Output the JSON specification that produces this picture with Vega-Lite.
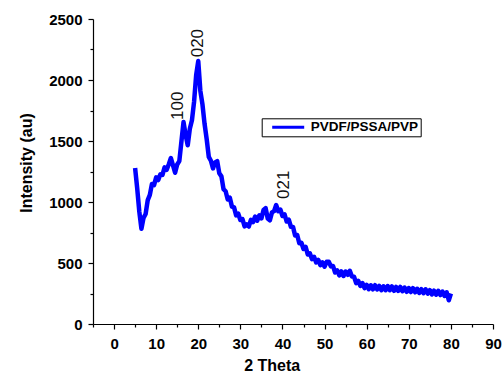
{
  "$schema": "https://vega.github.io/schema/vega-lite/v6.json",
  "width": 400,
  "height": 305,
  "autosize": "none",
  "padding": {"left": 93, "top": 19, "right": 10, "bottom": 51},
  "background": "white",
  "config": {
    "view": {"stroke": null},
    "font": "Liberation Sans",
    "axis": {
      "grid": false,
      "domainColor": "black",
      "tickColor": "black",
      "labelColor": "black",
      "titleColor": "black",
      "labelFont": "Liberation Sans",
      "titleFont": "Liberation Sans",
      "labelFontWeight": "bold",
      "titleFontWeight": "bold",
      "labelFontSize": 15,
      "titleFontSize": 16,
      "domainWidth": 1.2,
      "tickWidth": 1.2
    }
  },
  "datasets": {
    "xrd": [
      {"t": 5.0, "i": 1278, "s": "PVDF/PSSA/PVP"},
      {"t": 5.5, "i": 1110, "s": "PVDF/PSSA/PVP"},
      {"t": 6.0, "i": 920, "s": "PVDF/PSSA/PVP"},
      {"t": 6.5, "i": 780, "s": "PVDF/PSSA/PVP"},
      {"t": 7.0, "i": 870, "s": "PVDF/PSSA/PVP"},
      {"t": 7.5, "i": 902, "s": "PVDF/PSSA/PVP"},
      {"t": 8.0, "i": 1015, "s": "PVDF/PSSA/PVP"},
      {"t": 8.5, "i": 1058, "s": "PVDF/PSSA/PVP"},
      {"t": 9.0, "i": 1148, "s": "PVDF/PSSA/PVP"},
      {"t": 9.5, "i": 1138, "s": "PVDF/PSSA/PVP"},
      {"t": 10.0, "i": 1202, "s": "PVDF/PSSA/PVP"},
      {"t": 10.5, "i": 1180, "s": "PVDF/PSSA/PVP"},
      {"t": 11.0, "i": 1227, "s": "PVDF/PSSA/PVP"},
      {"t": 11.5, "i": 1222, "s": "PVDF/PSSA/PVP"},
      {"t": 12.0, "i": 1284, "s": "PVDF/PSSA/PVP"},
      {"t": 12.5, "i": 1264, "s": "PVDF/PSSA/PVP"},
      {"t": 13.0, "i": 1310, "s": "PVDF/PSSA/PVP"},
      {"t": 13.5, "i": 1360, "s": "PVDF/PSSA/PVP"},
      {"t": 14.0, "i": 1300, "s": "PVDF/PSSA/PVP"},
      {"t": 14.5, "i": 1240, "s": "PVDF/PSSA/PVP"},
      {"t": 15.0, "i": 1308, "s": "PVDF/PSSA/PVP"},
      {"t": 15.5, "i": 1335, "s": "PVDF/PSSA/PVP"},
      {"t": 16.0, "i": 1495, "s": "PVDF/PSSA/PVP"},
      {"t": 16.5, "i": 1655, "s": "PVDF/PSSA/PVP"},
      {"t": 17.0, "i": 1550, "s": "PVDF/PSSA/PVP"},
      {"t": 17.5, "i": 1465, "s": "PVDF/PSSA/PVP"},
      {"t": 18.0, "i": 1600, "s": "PVDF/PSSA/PVP"},
      {"t": 18.5, "i": 1670, "s": "PVDF/PSSA/PVP"},
      {"t": 19.0, "i": 1820, "s": "PVDF/PSSA/PVP"},
      {"t": 19.5, "i": 2040, "s": "PVDF/PSSA/PVP"},
      {"t": 20.0, "i": 2155, "s": "PVDF/PSSA/PVP"},
      {"t": 20.5, "i": 1910, "s": "PVDF/PSSA/PVP"},
      {"t": 21.0, "i": 1800, "s": "PVDF/PSSA/PVP"},
      {"t": 21.5, "i": 1640, "s": "PVDF/PSSA/PVP"},
      {"t": 22.0, "i": 1515, "s": "PVDF/PSSA/PVP"},
      {"t": 22.5, "i": 1370, "s": "PVDF/PSSA/PVP"},
      {"t": 23.0, "i": 1338, "s": "PVDF/PSSA/PVP"},
      {"t": 23.5, "i": 1275, "s": "PVDF/PSSA/PVP"},
      {"t": 24.0, "i": 1325, "s": "PVDF/PSSA/PVP"},
      {"t": 24.5, "i": 1335, "s": "PVDF/PSSA/PVP"},
      {"t": 25.0, "i": 1235, "s": "PVDF/PSSA/PVP"},
      {"t": 25.5, "i": 1210, "s": "PVDF/PSSA/PVP"},
      {"t": 26.0, "i": 1105, "s": "PVDF/PSSA/PVP"},
      {"t": 26.5, "i": 1088, "s": "PVDF/PSSA/PVP"},
      {"t": 27.0, "i": 1020, "s": "PVDF/PSSA/PVP"},
      {"t": 27.5, "i": 1035, "s": "PVDF/PSSA/PVP"},
      {"t": 28.0, "i": 962, "s": "PVDF/PSSA/PVP"},
      {"t": 28.5, "i": 956, "s": "PVDF/PSSA/PVP"},
      {"t": 29.0, "i": 890, "s": "PVDF/PSSA/PVP"},
      {"t": 29.5, "i": 904, "s": "PVDF/PSSA/PVP"},
      {"t": 30.0, "i": 852, "s": "PVDF/PSSA/PVP"},
      {"t": 30.5, "i": 860, "s": "PVDF/PSSA/PVP"},
      {"t": 31.0, "i": 800, "s": "PVDF/PSSA/PVP"},
      {"t": 31.5, "i": 817, "s": "PVDF/PSSA/PVP"},
      {"t": 32.0, "i": 799, "s": "PVDF/PSSA/PVP"},
      {"t": 32.5, "i": 853, "s": "PVDF/PSSA/PVP"},
      {"t": 33.0, "i": 835, "s": "PVDF/PSSA/PVP"},
      {"t": 33.5, "i": 880, "s": "PVDF/PSSA/PVP"},
      {"t": 34.0, "i": 847, "s": "PVDF/PSSA/PVP"},
      {"t": 34.5, "i": 891, "s": "PVDF/PSSA/PVP"},
      {"t": 35.0, "i": 865, "s": "PVDF/PSSA/PVP"},
      {"t": 35.5, "i": 935, "s": "PVDF/PSSA/PVP"},
      {"t": 36.0, "i": 950, "s": "PVDF/PSSA/PVP"},
      {"t": 36.5, "i": 865, "s": "PVDF/PSSA/PVP"},
      {"t": 37.0, "i": 850, "s": "PVDF/PSSA/PVP"},
      {"t": 37.5, "i": 915, "s": "PVDF/PSSA/PVP"},
      {"t": 38.0, "i": 925, "s": "PVDF/PSSA/PVP"},
      {"t": 38.5, "i": 975, "s": "PVDF/PSSA/PVP"},
      {"t": 39.0, "i": 925, "s": "PVDF/PSSA/PVP"},
      {"t": 39.5, "i": 938, "s": "PVDF/PSSA/PVP"},
      {"t": 40.0, "i": 885, "s": "PVDF/PSSA/PVP"},
      {"t": 40.5, "i": 898, "s": "PVDF/PSSA/PVP"},
      {"t": 41.0, "i": 840, "s": "PVDF/PSSA/PVP"},
      {"t": 41.5, "i": 855, "s": "PVDF/PSSA/PVP"},
      {"t": 42.0, "i": 797, "s": "PVDF/PSSA/PVP"},
      {"t": 42.5, "i": 796, "s": "PVDF/PSSA/PVP"},
      {"t": 43.0, "i": 725, "s": "PVDF/PSSA/PVP"},
      {"t": 43.5, "i": 730, "s": "PVDF/PSSA/PVP"},
      {"t": 44.0, "i": 662, "s": "PVDF/PSSA/PVP"},
      {"t": 44.5, "i": 666, "s": "PVDF/PSSA/PVP"},
      {"t": 45.0, "i": 615, "s": "PVDF/PSSA/PVP"},
      {"t": 45.5, "i": 633, "s": "PVDF/PSSA/PVP"},
      {"t": 46.0, "i": 570, "s": "PVDF/PSSA/PVP"},
      {"t": 46.5, "i": 580, "s": "PVDF/PSSA/PVP"},
      {"t": 47.0, "i": 532, "s": "PVDF/PSSA/PVP"},
      {"t": 47.5, "i": 551, "s": "PVDF/PSSA/PVP"},
      {"t": 48.0, "i": 505, "s": "PVDF/PSSA/PVP"},
      {"t": 48.5, "i": 525, "s": "PVDF/PSSA/PVP"},
      {"t": 49.0, "i": 482, "s": "PVDF/PSSA/PVP"},
      {"t": 49.5, "i": 506, "s": "PVDF/PSSA/PVP"},
      {"t": 50.0, "i": 470, "s": "PVDF/PSSA/PVP"},
      {"t": 50.5, "i": 510, "s": "PVDF/PSSA/PVP"},
      {"t": 51.0, "i": 510, "s": "PVDF/PSSA/PVP"},
      {"t": 51.5, "i": 472, "s": "PVDF/PSSA/PVP"},
      {"t": 52.0, "i": 476, "s": "PVDF/PSSA/PVP"},
      {"t": 52.5, "i": 422, "s": "PVDF/PSSA/PVP"},
      {"t": 53.0, "i": 440, "s": "PVDF/PSSA/PVP"},
      {"t": 53.5, "i": 398, "s": "PVDF/PSSA/PVP"},
      {"t": 54.0, "i": 431, "s": "PVDF/PSSA/PVP"},
      {"t": 54.5, "i": 394, "s": "PVDF/PSSA/PVP"},
      {"t": 55.0, "i": 430, "s": "PVDF/PSSA/PVP"},
      {"t": 55.5, "i": 403, "s": "PVDF/PSSA/PVP"},
      {"t": 56.0, "i": 436, "s": "PVDF/PSSA/PVP"},
      {"t": 56.5, "i": 390, "s": "PVDF/PSSA/PVP"},
      {"t": 57.0, "i": 387, "s": "PVDF/PSSA/PVP"},
      {"t": 57.5, "i": 335, "s": "PVDF/PSSA/PVP"},
      {"t": 58.0, "i": 354, "s": "PVDF/PSSA/PVP"},
      {"t": 58.5, "i": 312, "s": "PVDF/PSSA/PVP"},
      {"t": 59.0, "i": 335, "s": "PVDF/PSSA/PVP"},
      {"t": 59.5, "i": 294, "s": "PVDF/PSSA/PVP"},
      {"t": 60.0, "i": 321, "s": "PVDF/PSSA/PVP"},
      {"t": 60.5, "i": 285, "s": "PVDF/PSSA/PVP"},
      {"t": 61.0, "i": 317, "s": "PVDF/PSSA/PVP"},
      {"t": 61.5, "i": 284, "s": "PVDF/PSSA/PVP"},
      {"t": 62.0, "i": 318, "s": "PVDF/PSSA/PVP"},
      {"t": 62.5, "i": 283, "s": "PVDF/PSSA/PVP"},
      {"t": 63.0, "i": 312, "s": "PVDF/PSSA/PVP"},
      {"t": 63.5, "i": 277, "s": "PVDF/PSSA/PVP"},
      {"t": 64.0, "i": 309, "s": "PVDF/PSSA/PVP"},
      {"t": 64.5, "i": 277, "s": "PVDF/PSSA/PVP"},
      {"t": 65.0, "i": 311, "s": "PVDF/PSSA/PVP"},
      {"t": 65.5, "i": 277, "s": "PVDF/PSSA/PVP"},
      {"t": 66.0, "i": 308, "s": "PVDF/PSSA/PVP"},
      {"t": 66.5, "i": 272, "s": "PVDF/PSSA/PVP"},
      {"t": 67.0, "i": 304, "s": "PVDF/PSSA/PVP"},
      {"t": 67.5, "i": 272, "s": "PVDF/PSSA/PVP"},
      {"t": 68.0, "i": 304, "s": "PVDF/PSSA/PVP"},
      {"t": 68.5, "i": 269, "s": "PVDF/PSSA/PVP"},
      {"t": 69.0, "i": 299, "s": "PVDF/PSSA/PVP"},
      {"t": 69.5, "i": 264, "s": "PVDF/PSSA/PVP"},
      {"t": 70.0, "i": 295, "s": "PVDF/PSSA/PVP"},
      {"t": 70.5, "i": 262, "s": "PVDF/PSSA/PVP"},
      {"t": 71.0, "i": 294, "s": "PVDF/PSSA/PVP"},
      {"t": 71.5, "i": 260, "s": "PVDF/PSSA/PVP"},
      {"t": 72.0, "i": 289, "s": "PVDF/PSSA/PVP"},
      {"t": 72.5, "i": 254, "s": "PVDF/PSSA/PVP"},
      {"t": 73.0, "i": 285, "s": "PVDF/PSSA/PVP"},
      {"t": 73.5, "i": 252, "s": "PVDF/PSSA/PVP"},
      {"t": 74.0, "i": 284, "s": "PVDF/PSSA/PVP"},
      {"t": 74.5, "i": 249, "s": "PVDF/PSSA/PVP"},
      {"t": 75.0, "i": 278, "s": "PVDF/PSSA/PVP"},
      {"t": 75.5, "i": 242, "s": "PVDF/PSSA/PVP"},
      {"t": 76.0, "i": 273, "s": "PVDF/PSSA/PVP"},
      {"t": 76.5, "i": 240, "s": "PVDF/PSSA/PVP"},
      {"t": 77.0, "i": 272, "s": "PVDF/PSSA/PVP"},
      {"t": 77.5, "i": 237, "s": "PVDF/PSSA/PVP"},
      {"t": 78.0, "i": 266, "s": "PVDF/PSSA/PVP"},
      {"t": 78.5, "i": 230, "s": "PVDF/PSSA/PVP"},
      {"t": 79.0, "i": 260, "s": "PVDF/PSSA/PVP"},
      {"t": 79.5, "i": 195, "s": "PVDF/PSSA/PVP"},
      {"t": 80.0, "i": 250, "s": "PVDF/PSSA/PVP"}
    ],
    "ann": [
      {"t": 16.4, "i": 1672, "label": "100"},
      {"t": 21.2, "i": 2186, "label": "020"},
      {"t": 41.6, "i": 1025, "label": "021"}
    ]
  },
  "resolve": {"axis": {"x": "independent", "y": "independent"}},
  "layer": [
    {
      "data": {"name": "xrd"},
      "mark": {"type": "line", "strokeWidth": 4.5, "strokeJoin": "round"},
      "encoding": {
        "x": {
          "field": "t",
          "type": "quantitative",
          "scale": {"domain": [-5, 90], "nice": false, "zero": false},
          "axis": {
            "orient": "bottom",
            "title": "2 Theta",
            "values": [0, 10, 20, 30, 40, 50, 60, 70, 80, 90],
            "format": "d",
            "tickSize": 5,
            "labelPadding": 7,
            "labelFlush": false,
            "labelOverlap": false,
            "titleX": 178.7,
            "titleY": 46,
            "titleBaseline": "alphabetic",
            "titleAlign": "center"
          }
        },
        "y": {
          "field": "i",
          "type": "quantitative",
          "scale": {"domain": [0, 2500], "nice": false},
          "axis": {
            "orient": "left",
            "title": "Intensity (au)",
            "values": [0, 500, 1000, 1500, 2000, 2500],
            "format": "d",
            "tickSize": 5,
            "labelPadding": 6,
            "labelOverlap": false,
            "labelFlush": false,
            "titleX": -61.3,
            "titleY": 143.5,
            "titleAngle": 270,
            "titleBaseline": "alphabetic",
            "titleAlign": "center"
          }
        },
        "color": {
          "field": "s",
          "type": "nominal",
          "scale": {"range": ["#0000ff"]},
          "legend": {
            "orient": "none",
            "legendX": 168.7,
            "legendY": 99.3,
            "title": null,
            "symbolType": "stroke",
            "symbolSize": 1024,
            "symbolStrokeWidth": 3,
            "clipHeight": 14,
            "labelFont": "Liberation Sans",
            "labelFontSize": 13.5,
            "labelFontWeight": "bold",
            "labelColor": "black",
            "strokeColor": "black",
            "padding": 2,
            "symbolOffset": 7,
            "labelOffset": 5,
            "labelExpr": "datum.label + '   '"
          }
        }
      }
    },
    {
      "data": {"name": "ann"},
      "mark": {"type": "text", "angle": 270, "align": "left", "baseline": "alphabetic", "fontSize": 17, "font": "Liberation Sans", "color": "#111111"},
      "encoding": {
        "x": {
          "field": "t",
          "type": "quantitative",
          "axis": {
            "orient": "bottom",
            "title": null,
            "values": [-5, 5, 15, 25, 35, 45, 55, 65, 75, 85],
            "labels": false,
            "domain": false,
            "tickSize": 3
          }
        },
        "y": {
          "field": "i",
          "type": "quantitative",
          "axis": {
            "orient": "left",
            "title": null,
            "values": [250, 750, 1250, 1750, 2250],
            "labels": false,
            "domain": false,
            "tickSize": 3
          }
        },
        "text": {"field": "label"}
      }
    }
  ]
}
